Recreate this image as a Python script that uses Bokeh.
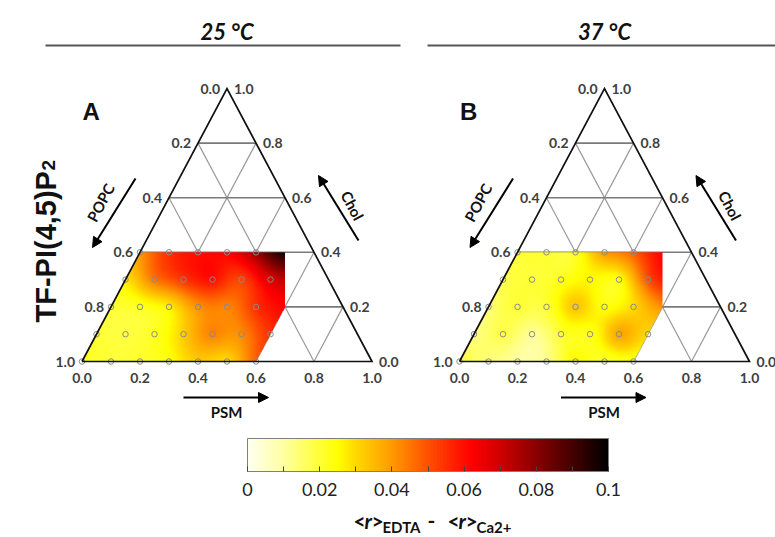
import numpy as np
from bokeh.plotting import figure
from bokeh.models import (Range1d, LinearColorMapper, ColorBar, FixedTicker,
                          CustomJSTickFormatter, Arrow, NormalHead)
from bokeh.core.properties import value
from bokeh.embed import file_html
from bokeh.resources import INLINE

# ---------------- data ----------------
psm_levels = [0.0, 0.1, 0.2, 0.3, 0.4, 0.5, 0.6]
chol_levels = [0.0, 0.1, 0.2, 0.3, 0.4]
# <r>EDTA - <r>Ca2+ ; rows = Chol level, columns = PSM level
delta_r_25 = [
    [0.022, 0.020, 0.021, 0.024, 0.032, 0.030, 0.048],
    [0.020, 0.019, 0.022, 0.032, 0.043, 0.042, 0.055],
    [0.020, 0.022, 0.027, 0.041, 0.043, 0.055, 0.062],
    [0.028, 0.045, 0.054, 0.060, 0.052, 0.068, 0.075],
    [0.040, 0.055, 0.060, 0.062, 0.078, 0.098, 0.100],
]
delta_r_37 = [
    [0.019, 0.014, 0.010, 0.012, 0.025, 0.020, 0.022],
    [0.013, 0.018, 0.011, 0.020, 0.022, 0.038, 0.030],
    [0.014, 0.020, 0.020, 0.033, 0.024, 0.030, 0.042],
    [0.018, 0.020, 0.022, 0.026, 0.024, 0.050, 0.062],
    [0.020, 0.021, 0.022, 0.040, 0.048, 0.062, 0.065],
]
panel_data = [delta_r_25, delta_r_37]
panel_titles = ["25 \u00b0C", "37 \u00b0C"]
panel_letters = ["A", "B"]
axis_ticks = [0.0, 0.2, 0.4, 0.6, 0.8, 1.0]
cbar_ticks = [0, 0.02, 0.04, 0.06, 0.08, 0.1]
cbar_minor = [0.01, 0.03, 0.05, 0.07, 0.09]
row_label_main = "TF-PI(4,5)P"
row_label_sub = "2"

# colour map anchors
cmap_vals = [0.0, 0.01, 0.025, 0.03, 0.04, 0.05, 0.062, 0.07, 0.08, 0.09, 0.1]
cmap_cols = ["#FFFFF0", "#FFFFA0", "#FFFF00", "#FFD800", "#FF9A00", "#FF5000",
             "#FF0000", "#D00000", "#8A0000", "#450000", "#000000"]


def make_palette(n=256):
    rgb = np.array([[int(c[i:i + 2], 16) for i in (1, 3, 5)] for c in cmap_cols], float)
    v = np.linspace(cmap_vals[0], cmap_vals[-1], n)
    out = []
    for t in v:
        r = np.interp(t, cmap_vals, rgb[:, 0])
        g = np.interp(t, cmap_vals, rgb[:, 1])
        b = np.interp(t, cmap_vals, rgb[:, 2])
        out.append("#%02x%02x%02x" % (int(round(r)), int(round(g)), int(round(b))))
    return out


palette = make_palette()

# ---------------- layout ----------------
W, H = 775, 537
X0, UX = 81.5, 290.0   # px of ternary x = 0 (panel A), base width in px
Y0, UY = 361.0, 273.0  # px of base line, triangle height in px


def gx(X):
    return (X - X0) / UX


def gy(Y):
    return (Y0 - Y) / UY


PANEL_DX = [0.0, gx(459.0)]

p = figure(width=W, height=H, x_range=Range1d(gx(0), gx(W)),
           y_range=Range1d(gy(H), gy(0)), output_backend="svg",
           toolbar_location=None, min_border=0,
           x_axis_location=None, y_axis_location=None)
p.grid.visible = False
p.outline_line_color = None
p.background_fill_color = "white"

mapper = LinearColorMapper(palette=palette, low=0.0, high=0.1, nan_color=(0, 0, 0, 0.0))

TICKFONT = value("Lato")


def tps_surface(xs, ys, vs, qx, qy):
    n = len(xs)
    P = np.column_stack([xs, ys])
    d = np.sqrt(((P[:, None, :] - P[None, :, :]) ** 2).sum(-1))
    K = np.where(d > 0, d ** 2 * np.log(np.maximum(d, 1e-12)), 0.0)
    A = np.zeros((n + 3, n + 3))
    A[:n, :n] = K
    A[:n, n] = 1
    A[:n, n + 1] = xs
    A[:n, n + 2] = ys
    A[n, :n] = 1
    A[n + 1, :n] = xs
    A[n + 2, :n] = ys
    b = np.concatenate([vs, np.zeros(3)])
    sol = np.linalg.solve(A, b)
    w, a = sol[:n], sol[n:]
    dq = np.sqrt((qx[:, None] - xs[None, :]) ** 2 + (qy[:, None] - ys[None, :]) ** 2)
    Kq = np.where(dq > 0, dq ** 2 * np.log(np.maximum(dq, 1e-12)), 0.0)
    return Kq @ w + a[0] + a[1] * qx + a[2] * qy


IMG_W, IMG_H = 0.7, 0.4
NX, NY = 420, 240

for k, data in enumerate(panel_data):
    ox = PANEL_DX[k]
    # grid lines
    hx, hy, dxs, dys = [], [], [], []
    for t in axis_ticks[1:-1]:
        hx.append([ox + t / 2, ox + 1 - t / 2]); hy.append([t, t])
        dxs.append([ox + t, ox + t + (1 - t) / 2]); dys.append([0, 1 - t])
        dxs.append([ox + 1 - t, ox + (1 - t) / 2]); dys.append([0, 1 - t])
    p.multi_line(dxs, dys, line_color="#9a9a9a", line_width=1.2)
    p.multi_line(hx, hy, line_color="#7a7a7a", line_width=1.6)

    # heat map
    S, C = np.meshgrid(psm_levels, chol_levels)
    S = S.ravel(); C = C.ravel()
    V = np.array(data, float).ravel()
    px_ = S + C / 2
    py_ = C * UY / UX
    gxv = (np.arange(NX) + 0.5) / NX * IMG_W
    gcv = (np.arange(NY) + 0.5) / NY * IMG_H
    GX, GC = np.meshgrid(gxv, gcv)
    Z = tps_surface(px_, py_, V, GX.ravel(), (GC * UY / UX).ravel()).reshape(GX.shape)
    Z = np.clip(Z, 0.0, 0.1)
    mask = (GX < GC / 2) | (GX > np.minimum(0.6 + GC / 2, 0.7))
    Z[mask] = np.nan
    p.image(image=[Z], x=ox, y=0, dw=IMG_W, dh=IMG_H, color_mapper=mapper)

    # measurement points
    keep = px_ <= 0.66
    p.scatter(ox + px_[keep], C[keep], marker="circle", size=5.5, fill_color=None,
              line_color="#8a8a8a", line_width=1)

    # triangle outline
    p.line([ox, ox + 1, ox + 0.5, ox], [0, 0, 1, 0], line_color="#111111",
           line_width=1.7, line_join="miter")

    # tick labels
    lab = ["%.1f" % t for t in axis_ticks]
    p.text([ox + t / 2 for t in axis_ticks], axis_ticks, text=lab[::-1],
           text_align="right", text_baseline="middle", x_offset=-7,
           text_font=TICKFONT, text_font_style="bold", text_font_size="14px",
           text_color="#404040")
    p.text([ox + 1 - t / 2 for t in axis_ticks], axis_ticks, text=lab,
           text_align="left", text_baseline="middle", x_offset=7,
           text_font=TICKFONT, text_font_style="bold", text_font_size="14px",
           text_color="#404040")
    p.text([ox + t for t in axis_ticks], [0] * len(axis_ticks), text=lab,
           text_align="center", text_baseline="top", y_offset=11,
           text_font=TICKFONT, text_font_style="bold", text_font_size="14px",
           text_color="#404040")

    # component arrows and names
    for (xs0, ys0, xs1, ys1) in [(135, 178, 92, 247), (358, 240, 318, 175), (183, 397, 268, 397)]:
        p.add_layout(Arrow(end=NormalHead(size=10, fill_color="black", line_color="black"),
                           x_start=ox + gx(xs0), y_start=gy(ys0),
                           x_end=ox + gx(xs1), y_end=gy(ys1),
                           line_color="black", line_width=2))
    ang = np.arctan2(UY, UX / 2)
    p.text([ox + gx(100)], [gy(202)], text=["POPC"], angle=ang, text_align="center",
           text_baseline="middle", text_font=TICKFONT, text_font_style="bold",
           text_font_size="15px", text_color="#111111")
    p.text([ox + gx(352)], [gy(205)], text=["Chol"], angle=-ang, text_align="center",
           text_baseline="middle", text_font=TICKFONT, text_font_style="bold",
           text_font_size="15px", text_color="#111111")
    p.text([ox + gx(226)], [gy(411)], text=["PSM"], text_align="center",
           text_baseline="middle", text_font=TICKFONT, text_font_style="bold",
           text_font_size="15px", text_color="#111111")

    # panel letter and title
    p.text([ox + gx(82)], [gy(111)], text=[panel_letters[k]], text_align="left",
           text_baseline="alphabetic", text_font=value("Liberation Sans"),
           text_font_style="bold", text_font_size="24px", text_color="#111111")
    p.text([ox + 0.5], [gy(31)], text=[panel_titles[k]], text_align="center",
           text_baseline="alphabetic", text_font=TICKFONT,
           text_font_style="bold italic", text_font_size="22px", text_color="#111111")

# header rules
p.segment(x0=[gx(45), gx(427)], y0=[gy(45), gy(45)], x1=[gx(400), gx(780)],
          y1=[gy(45), gy(45)], line_color="#555555", line_width=2)

# row label
p.text([gx(45)], [gy(322)], text=[row_label_main], angle=np.pi / 2, text_align="left",
       text_baseline="alphabetic", text_font=value("Liberation Sans"),
       text_font_style="bold", text_font_size="29px", text_color="#111111")
p.text([gx(48)], [gy(170)], text=[row_label_sub], angle=np.pi / 2, text_align="left",
       text_baseline="alphabetic", text_font=value("Liberation Sans"),
       text_font_style="bold", text_font_size="19px", text_color="#111111")

# colour bar
cbar = ColorBar(color_mapper=mapper, orientation="horizontal", width=361, height=33,
                location=(247, 39), padding=0,
                ticker=FixedTicker(ticks=cbar_ticks, minor_ticks=cbar_minor),
                formatter=CustomJSTickFormatter(code="return String(tick)"),
                major_label_text_font="Lato", major_label_text_font_size="18px",
                major_label_text_color="#222222", label_standoff=11,
                major_tick_in=5, major_tick_out=0, minor_tick_in=5, minor_tick_out=0,
                major_tick_line_color="#444444", minor_tick_line_color="#444444",
                bar_line_color="#7f7f7f", border_line_color=None,
                background_fill_alpha=0)
p.add_layout(cbar, "center")

# colour bar title: <r>EDTA - <r>Ca2+
TX, TY = gx(353), gy(520)
main_parts = [("<", 0), (">", 18), ("-", 74), ("<", 94), (">", 112)]
p.text([TX] * len(main_parts), [TY] * len(main_parts), text=[m[0] for m in main_parts],
       x_offset=[m[1] for m in main_parts], text_align="left", text_baseline="alphabetic",
       text_font=TICKFONT, text_font_style="bold", text_font_size="21px", text_color="#111111")
ital_parts = [("r", 11), ("r", 105)]
p.text([TX] * 2, [TY] * 2, text=[m[0] for m in ital_parts], x_offset=[m[1] for m in ital_parts],
       text_align="left", text_baseline="alphabetic", text_font=TICKFONT,
       text_font_style="bold italic", text_font_size="21px", text_color="#111111")
sub_parts = [("EDTA", 29), ("Ca2+", 123)]
p.text([TX] * 2, [TY] * 2, text=[m[0] for m in sub_parts], x_offset=[m[1] for m in sub_parts],
       y_offset=6, text_align="left", text_baseline="alphabetic", text_font=TICKFONT,
       text_font_style="bold", text_font_size="15px", text_color="#111111")

open("out.html", "w").write(file_html(p, INLINE))
